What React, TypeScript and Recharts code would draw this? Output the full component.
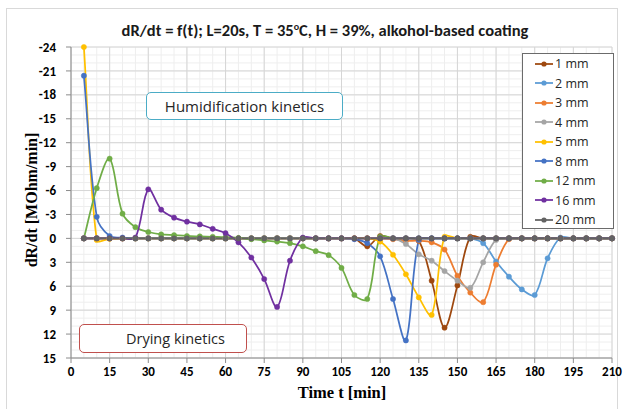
import React from "react";
import { LineChart, Line, XAxis, YAxis, CartesianGrid } from "recharts";

// sampling times [min]
const times = [
  5, 10, 15, 20, 25, 30, 35, 40, 45, 50, 55, 60, 65, 70, 75, 80, 85, 90, 95, 100, 105,
  110, 115, 120, 125, 130, 135, 140, 145, 150, 155, 160, 165, 170, 175, 180, 185, 190,
  195, 200, 205, 210,
];

// dR/dt [MOhm/min], one value per sampling time
const mm1 = [
  0, 0, 0, 0, 0, 0, 0, 0, 0, 0, 0, 0, 0, 0, 0, 0, 0, 0, 0, 0, 0,
  0, 1.0, -0.3, 0, 0, 0.3, 5.3, 11.2, 5.9, -0.2, 0, 0, 0, 0, 0, 0, 0,
  0, 0, 0, 0,
];
const mm2 = [
  0, 0, 0, 0, 0, 0, 0, 0, 0, 0, 0, 0, 0, 0, 0, 0, 0, 0, 0, 0, 0,
  0, 0, 0, 0, 0, 0, 0, 0, 0, 0, 0.6, 2.9, 4.8, 6.4, 7.1, 2.5, -0.1,
  0, 0, 0, 0,
];
const mm3 = [
  0, 0, 0, 0, 0, 0, 0, 0, 0, 0, 0, 0, 0, 0, 0, 0, 0, 0, 0, 0, 0,
  0, 0, 0, 0.1, 0.3, 0.3, 0.5, 1.4, 4.7, 6.8, 8.0, 3.3, 0.1, 0, 0, 0, 0,
  0, 0, 0, 0,
];
const mm4 = [
  0, 0, 0, 0, 0, 0, 0, 0, 0, 0, 0, 0, 0, 0, 0, 0, 0, 0, 0, 0, 0,
  0, 0, 0, 0, 0.7, 2.0, 2.8, 4.1, 5.3, 6.2, 3.0, 0.2, 0, 0, 0, 0, 0,
  0, 0, 0, 0,
];
const mm5 = [
  -24, 0.2, 0.05, 0, 0, 0, 0, 0, 0, 0, 0, 0, 0, 0, 0, 0, 0, 0, 0, 0, 0,
  0, 0, 0.4, 2.05, 4.5, 7.4, 9.6, -0.2, 0, 0, 0, 0, 0, 0, 0, 0, 0,
  0, 0, 0, 0,
];
const mm8 = [
  -20.4, -2.7, -0.3, -0.1, 0, 0, 0, 0, 0, 0, 0, 0, 0, 0, 0, 0, 0, 0, 0, 0, 0,
  0.1, 0.6, 2.25, 7.6, 12.8, 0.2, 0, 0, 0, 0, 0, 0, 0, 0, 0, 0, 0,
  0, 0, 0, 0,
];
const mm12 = [
  0, -6.3, -10.0, -3.1, -1.4, -0.8, -0.5, -0.4, -0.3, -0.25, -0.2, -0.15, -0.05, 0.1,
  0.25, 0.4, 0.6, 1.0, 1.6, 2.1, 3.7, 7.1, 7.6, -0.2, 0, 0, 0, 0, 0, 0, 0, 0, 0, 0,
  0, 0, 0, 0, 0, 0, 0, 0,
];
const mm16 = [
  0, 0, 0, 0, -0.1, -6.15, -3.6, -2.6, -2.1, -1.75, -1.2, -0.65, 0.5, 2.4, 5.1, 8.6,
  2.8, -0.1, 0, 0, 0, 0, 0, 0, 0, 0, 0, 0, 0, 0, 0, 0, 0, 0, 0, 0, 0, 0,
  0, 0, 0, 0,
];
const mm20 = [
  0, 0, 0, 0, 0, 0, 0, 0, 0, 0, 0, 0, 0, 0, 0, 0, 0, 0, 0, 0, 0,
  0, 0, 0, 0, 0, 0, 0, 0, 0, 0, 0, 0, 0, 0, 0, 0, 0, 0, 0, 0, 0,
];

const xTicks = [0, 15, 30, 45, 60, 75, 90, 105, 120, 135, 150, 165, 180, 195, 210];
const yTicks = [-24, -21, -18, -15, -12, -9, -6, -3, 0, 3, 6, 9, 12, 15];

const series = [
  { key: "mm1", name: "1 mm", color: "#9e480e", values: mm1 },
  { key: "mm2", name: "2 mm", color: "#5b9bd5", values: mm2 },
  { key: "mm3", name: "3 mm", color: "#ed7d31", values: mm3 },
  { key: "mm4", name: "4 mm", color: "#a5a5a5", values: mm4 },
  { key: "mm5", name: "5 mm", color: "#ffc000", values: mm5 },
  { key: "mm8", name: "8 mm", color: "#4472c4", values: mm8 },
  { key: "mm12", name: "12 mm", color: "#70ad47", values: mm12 },
  { key: "mm16", name: "16 mm", color: "#7030a0", values: mm16 },
  { key: "mm20", name: "20 mm", color: "#636363", values: mm20 },
];

const data = times.map((t, i) => {
  const row: Record<string, number> = { t };
  series.forEach((s) => (row[s.key] = s.values[i]));
  return row;
});

// minor gridlines (every 5 min / every 1 unit)
const minorX = Array.from({ length: 43 }, (_, i) => i * 5);
const minorY = Array.from({ length: 40 }, (_, i) => i - 24);

// Excel-like smoothed line: Bezier through the points, tangents scaled by chord length
const excelCurve = (context: any) => {
  let pts: number[][] = [];
  const dist = (a: number[], b: number[]) => Math.hypot(b[0] - a[0], b[1] - a[1]);
  return {
    areaStart() {},
    areaEnd() {},
    lineStart() {
      pts = [];
    },
    point(x: number, y: number) {
      pts.push([+x, +y]);
    },
    lineEnd() {
      const n = pts.length;
      if (!n) return;
      context.moveTo(pts[0][0], pts[0][1]);
      for (let i = 0; i < n - 1; i++) {
        const p0 = pts[i > 0 ? i - 1 : 0];
        const p1 = pts[i];
        const p2 = pts[i + 1];
        const p3 = pts[i + 2 < n ? i + 2 : n - 1];
        const d01 = dist(p0, p1);
        const d12 = dist(p1, p2);
        const d23 = dist(p2, p3);
        const a = d01 + d12 > 0 ? d12 / (3 * (d01 + d12)) : 0;
        const b = d12 + d23 > 0 ? d12 / (3 * (d12 + d23)) : 0;
        context.bezierCurveTo(
          p1[0] + (p2[0] - p0[0]) * a,
          p1[1] + (p2[1] - p0[1]) * a,
          p2[0] - (p3[0] - p1[0]) * b,
          p2[1] - (p3[1] - p1[1]) * b,
          p2[0],
          p2[1]
        );
      }
    },
  };
};

const sans = "Carlito, Calibri, 'Liberation Sans', Arial, sans-serif";
const serif = "'Liberation Serif', 'Times New Roman', serif";
const tickStyle = { fontSize: 13, fontWeight: 700, fill: "#000", fontFamily: sans };

export default function App() {
  return (
    <div style={{ position: "absolute", left: 0, top: 0, width: 624, height: 409, background: "#fff", overflow: "hidden" }}>
      <div style={{ position: "absolute", left: 6, top: 8, width: 612, height: 420, border: "1px solid #d9d9d9", boxSizing: "border-box" }} />
      <LineChart
        width={624}
        height={409}
        data={data}
        margin={{ top: 47, right: 12, bottom: 21, left: 30 }}
        style={{ position: "absolute", left: 0, top: 0 }}
      >
        <CartesianGrid stroke="#eeeeee" horizontalValues={minorY} verticalValues={minorX} />
        <CartesianGrid stroke="#d6d6d6" horizontalValues={yTicks} verticalValues={xTicks} />
        <XAxis
          dataKey="t"
          type="number"
          domain={[0, 210]}
          ticks={xTicks}
          interval={0}
          height={30}
          tickSize={5}
          tickMargin={4}
          tick={tickStyle}
          axisLine={{ stroke: "#8c8c8c" }}
          tickLine={{ stroke: "#8c8c8c" }}
        />
        <YAxis
          type="number"
          domain={[-24, 15]}
          reversed
          ticks={yTicks}
          interval={0}
          width={41}
          tickSize={5}
          tickMargin={10}
          tick={tickStyle}
          axisLine={{ stroke: "#8c8c8c" }}
          tickLine={{ stroke: "#8c8c8c" }}
        />
        {series.map((s) => (
          <Line
            key={s.key}
            dataKey={s.key}
            name={s.name}
            type={excelCurve as any}
            stroke={s.color}
            strokeWidth={1.75}
            dot={{ r: 2.6, fill: s.color, stroke: s.color, strokeWidth: 0.5 }}
            activeDot={false}
            isAnimationActive={false}
          />
        ))}
      </LineChart>

      <svg width={624} height={409} style={{ position: "absolute", left: 0, top: 0, pointerEvents: "none" }}>
        <text x={325} y={36} textAnchor="middle" fontFamily={sans} fontWeight={700} fontSize={16.5} fill="#1a1a1a">
          dR/dt = f(t); L=20s, T = 35<tspan dy={-6} fontSize={10}>o</tspan>
          <tspan dy={6}>C, H = 39%, alkohol-based coating</tspan>
        </text>
        <text
          x={31}
          y={200}
          transform="rotate(-90 31 200)"
          textAnchor="middle"
          dominantBaseline="central"
          fontFamily={serif}
          fontWeight={700}
          fontSize={16}
          fill="#000"
        >
          dR/dt [MOhm/min]
        </text>
        <text x={342} y={392} textAnchor="middle" dominantBaseline="central" fontFamily={serif} fontWeight={700} fontSize={16.5} fill="#000">
          Time t [min]
        </text>
      </svg>

      <div
        style={{
          position: "absolute", left: 146, top: 92, width: 197, height: 28, boxSizing: "border-box",
          border: "1.5px solid #4bacc6", borderRadius: 5, background: "#fff",
          display: "flex", alignItems: "center", justifyContent: "center",
          fontFamily: "'Open Sans', sans-serif", fontSize: 15, color: "#262626",
        }}
      >
        Humidification kinetics
      </div>
      <div
        style={{
          position: "absolute", left: 79, top: 324, width: 168, height: 29, boxSizing: "border-box",
          border: "1.5px solid #c0504d", borderRadius: 5, background: "#fff",
          display: "flex", alignItems: "center", paddingLeft: 46,
          fontFamily: "'Open Sans', sans-serif", fontSize: 14.5, color: "#262626",
        }}
      >
        Drying kinetics
      </div>

      <div
        style={{
          position: "absolute", left: 522, top: 53, width: 92, height: 176, boxSizing: "border-box",
          border: "1px solid #6b6b6b", background: "#fff",
        }}
      >
        {series.map((s) => (
          <div key={s.key} style={{ height: 19.5, display: "flex", alignItems: "center" }}>
            <svg width={18} height={8} style={{ marginLeft: 12, marginRight: 2 }}>
              <line x1={0} y1={4} x2={18} y2={4} stroke={s.color} strokeWidth={1.75} />
              <circle cx={9} cy={4} r={2.6} fill={s.color} />
            </svg>
            <span style={{ fontFamily: "'Open Sans', sans-serif", fontSize: 12.5, color: "#262626" }}>{s.name}</span>
          </div>
        ))}
      </div>
    </div>
  );
}
